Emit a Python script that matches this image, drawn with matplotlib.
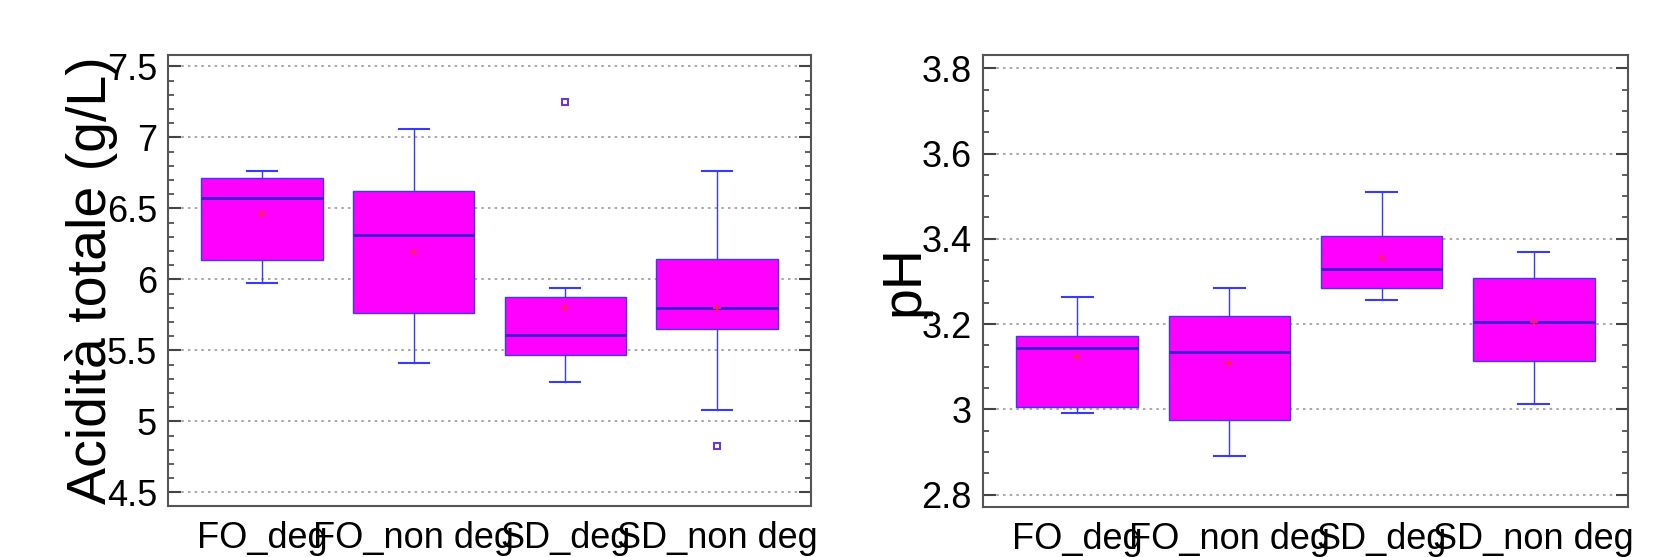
import matplotlib
matplotlib.use("Agg")
import matplotlib.pyplot as plt
from matplotlib.ticker import MultipleLocator

plt.rcParams['font.family'] = ['Liberation Sans', 'DejaVu Sans']

categories = ["FO_deg", "FO_non deg", "SD_deg", "SD_non deg"]

# Left panel: Acidità totale (g/L)
acid_whislo = [5.975, 5.41, 5.275, 5.08]
acid_q1 = [6.135, 5.76, 5.47, 5.652]
acid_med = [6.574, 6.314, 5.61, 5.80]
acid_q3 = [6.715, 6.62, 5.877, 6.144]
acid_whishi = [6.76, 7.056, 5.94, 6.76]
acid_mean = [6.46, 6.19, 5.80, 5.80]
acid_fliers = [[], [], [7.25], [4.825]]

# Right panel: pH
ph_whislo = [2.992, 2.891, 3.257, 3.013]
ph_q1 = [3.006, 2.974, 3.284, 3.114]
ph_med = [3.145, 3.135, 3.330, 3.205]
ph_q3 = [3.173, 3.218, 3.406, 3.308]
ph_whishi = [3.264, 3.284, 3.51, 3.368]
ph_mean = [3.123, 3.109, 3.355, 3.206]
ph_fliers = [[], [], [], []]


def make_stats(lo, q1, med, q3, hi, mean, fl):
    return [dict(label=c, whislo=a, q1=b, med=m, q3=d, whishi=e, mean=mu, fliers=f)
            for c, a, b, m, d, e, mu, f in zip(categories, lo, q1, med, q3, hi, mean, fl)]


fig = plt.figure(figsize=(16.68, 5.57), dpi=100)
ax1 = fig.add_axes([168/1668, 1-506/557, 643/1668, 451/557])
ax2 = fig.add_axes([983/1668, 1-507/557, 645/1668, 452/557])

blue = '#3a3aff'
boxprops = dict(facecolor='#ff00ff', edgecolor=blue, linewidth=1.0)
whiskerprops = dict(color=blue, linewidth=1.0)
capprops = dict(color=blue, linewidth=1.5)
medianprops = dict(color='#3a1fd0', linewidth=2.0)
meanprops = dict(marker='+', markeredgecolor='#ff2060', markersize=6, markeredgewidth=1.3)
flierprops = dict(marker='s', markerfacecolor='none', markeredgecolor='#6a3ad0', markersize=5, markeredgewidth=1.5)


def draw(ax, stats, ylim, major, minor, ylabel, label_x):
    ax.bxp(stats, positions=[1, 2, 3, 4], widths=0.8, capwidths=0.2, patch_artist=True,
           showmeans=True, showfliers=True, boxprops=boxprops, whiskerprops=whiskerprops,
           capprops=capprops, medianprops=medianprops, meanprops=meanprops,
           flierprops=flierprops, zorder=3)
    ax.set_xlim(0.38, 4.62)
    ax.set_ylim(*ylim)
    ax.yaxis.set_major_locator(MultipleLocator(major))
    ax.yaxis.set_minor_locator(MultipleLocator(minor))
    ax.yaxis.grid(True, which='major', linestyle=(0, (1.5, 2.5)), color='#999999', linewidth=1.2)
    ax.set_axisbelow(True)
    ax.tick_params(axis='y', which='major', direction='in', left=True, right=True,
                   length=9, width=1.5, color='#444444', labelsize=26, pad=8)
    ax.tick_params(axis='y', which='minor', direction='in', left=True, right=True,
                   length=4.5, width=1.2, color='#444444')
    ax.tick_params(axis='x', which='both', bottom=False, top=False, labelsize=26, pad=7)
    ax.set_xticks([1, 2, 3, 4])
    ax.set_xticklabels(categories)
    for s in ax.spines.values():
        s.set_color('#555555')
        s.set_linewidth(1.5)
    ax.set_ylabel(ylabel, fontsize=40)
    ax.yaxis.set_label_coords(label_x, 0.5)
    fmt = lambda v, p: ('%g' % round(v, 2))
    ax.yaxis.set_major_formatter(plt.FuncFormatter(fmt))


draw(ax1, make_stats(acid_whislo, acid_q1, acid_med, acid_q3, acid_whishi, acid_mean, acid_fliers),
     (4.404, 7.58), 0.5, 0.1, 'Acidità totale (g/L)', -0.078)
draw(ax2, make_stats(ph_whislo, ph_q1, ph_med, ph_q3, ph_whishi, ph_mean, ph_fliers),
     (2.771, 3.831), 0.2, 0.05, 'pH', -0.082)

fig.savefig('out.png', dpi=100)
